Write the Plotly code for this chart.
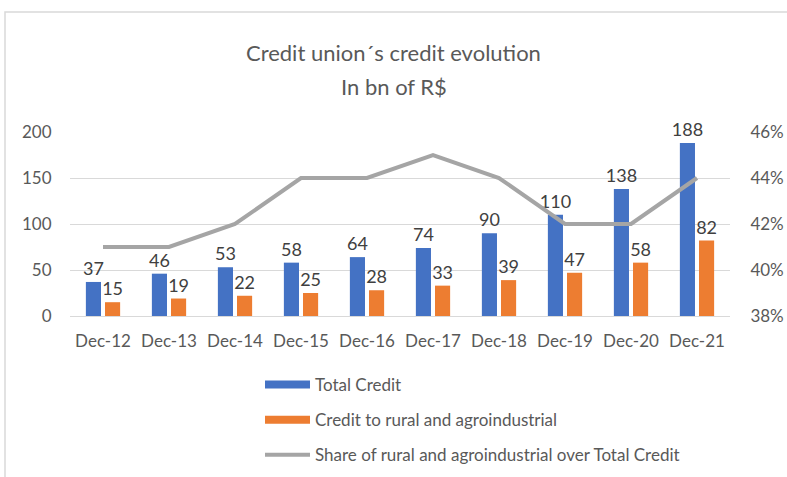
import plotly.graph_objects as go

categories = ["Dec-12", "Dec-13", "Dec-14", "Dec-15", "Dec-16", "Dec-17", "Dec-18", "Dec-19", "Dec-20", "Dec-21"]
total_credit = [37, 46, 53, 58, 64, 74, 90, 110, 138, 188]
rural_credit = [15, 19, 22, 25, 28, 33, 39, 47, 58, 82]
share_rural = [0.41, 0.41, 0.42, 0.44, 0.44, 0.45, 0.44, 0.42, 0.42, 0.44]
title_lines = ["Credit union´s credit evolution", "In bn of R$"]

FONT = "Lato"
TXT = "#595959"
BLUE, ORANGE, GRAY = "#4472C4", "#ED7D31", "#A5A5A5"
W, H = 787, 477
L, R, T, B = 70, 57, 132, 161
pw, ph = W - L - R, H - T - B

fig = go.Figure()
fig.add_trace(go.Bar(
    x=categories, y=total_credit, name="Total Credit",
    marker=dict(color=BLUE, line=dict(width=0)),
    text=total_credit, textposition="outside", cliponaxis=False, constraintext="none",
    textfont=dict(size=18, color="#404040", family=FONT),
    showlegend=False,
))
fig.add_trace(go.Bar(
    x=categories, y=rural_credit, name="Credit to rural and agroindustrial",
    marker=dict(color=ORANGE, line=dict(width=0)),
    text=rural_credit, textposition="outside", cliponaxis=False, constraintext="none",
    textfont=dict(size=18, color="#404040", family=FONT),
    showlegend=False,
))
fig.add_trace(go.Scatter(
    x=categories, y=share_rural, name="Share of rural and agroindustrial over Total Credit",
    mode="lines", line=dict(color=GRAY, width=4),
    yaxis="y2", showlegend=False,
))

# legend keys
legend_items = [("Total Credit", BLUE, 8), ("Credit to rural and agroindustrial", ORANGE, 8),
                ("Share of rural and agroindustrial over Total Credit", GRAY, 4)]
for i, (nm, col, wd) in enumerate(legend_items):
    fig.add_trace(go.Scatter(x=[None], y=[None], mode="lines", name=nm,
                             line=dict(color=col, width=wd), legendgroup=str(i), showlegend=True))

annotations = []
for i, (txt, yc) in enumerate(zip(title_lines, [52, 87])):
    annotations.append(dict(
        text=txt, xref="paper", yref="paper", x=(W / 2 - L) / pw, xanchor="center",
        y=1 + (T - yc) / ph, yanchor="middle", showarrow=False,
        font=dict(size=22, color=TXT, family=FONT),
    ))

fig.update_layout(
    width=W, height=H,
    margin=dict(l=L, r=R, t=T, b=B, autoexpand=False),
    paper_bgcolor="white", plot_bgcolor="white",
    font=dict(family=FONT, color=TXT, size=17),
    annotations=annotations,
    barmode="group", bargap=0.42, bargroupgap=0.21,
    xaxis=dict(showgrid=False, showline=False, ticks="outside", ticklen=10, tickcolor="white",
               tickfont=dict(size=17, color=TXT)),
    yaxis=dict(range=[0, 200], dtick=50, showgrid=True, gridcolor="#D9D9D9", gridwidth=1,
               zeroline=True, zerolinecolor="#D9D9D9", zerolinewidth=1,
               showline=False, ticks="outside", ticklen=14, tickcolor="white",
               tickfont=dict(size=17, color=TXT)),
    yaxis2=dict(overlaying="y", side="right", range=[0.38, 0.46], dtick=0.02,
                tickformat=".0%", showgrid=False, zeroline=False, showline=False,
                ticks="outside", ticklen=16, tickcolor="white",
                tickfont=dict(size=17, color=TXT)),
    showlegend=True,
    legend=dict(
        orientation="v", x=260 / W, xanchor="left", xref="container",
        y=1 - 367 / H, yanchor="top", yref="container",
        font=dict(size=17, color=TXT, family=FONT),
        tracegroupgap=10, bgcolor="rgba(0,0,0,0)", itemwidth=45,
    ),
    shapes=[dict(
        type="rect", xref="paper", yref="paper",
        x0=(5 - L) / pw, x1=(800 - L) / pw,
        y0=(316 - 490) / ph, y1=1 + (T - 12) / ph,
        line=dict(color="#D9D9D9", width=1.5), fillcolor="rgba(0,0,0,0)", layer="below",
    )],
)

fig.write_html("out.html", config={"displayModeBar": False},
               post_script="document.body.style.margin='0';document.body.style.padding='0';")
